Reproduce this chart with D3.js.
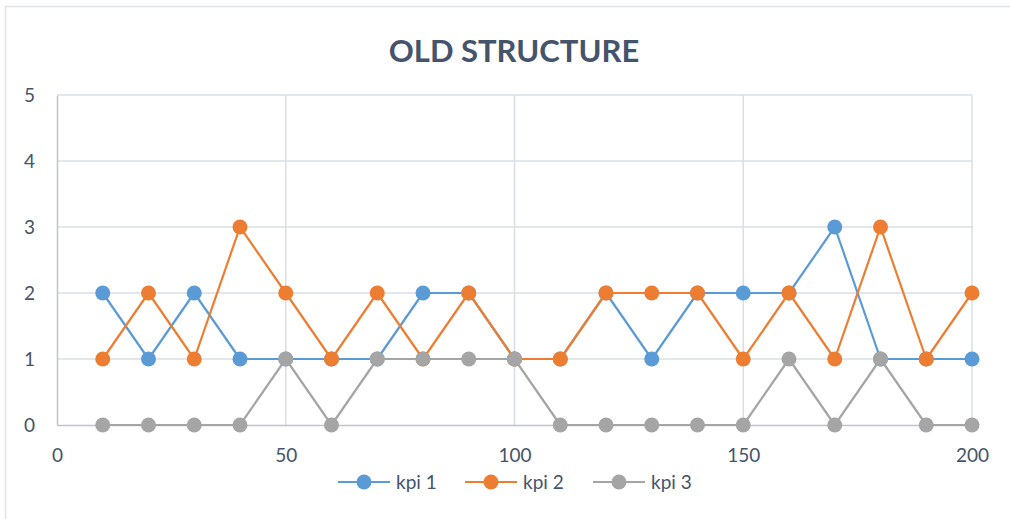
<!DOCTYPE html>
<html>
<head>
<meta charset="utf-8">
<script src="https://cdn.jsdelivr.net/npm/d3@7"></script>
<style>
  html, body { margin: 0; padding: 0; background: #fff; }
  svg { display: block; }
</style>
</head>
<body>
<svg id="chart" width="1010" height="519"></svg>
<script>
// Series data: x positions and KPI values
const xValues = [10, 20, 30, 40, 50, 60, 70, 80, 90, 100, 110, 120, 130, 140, 150, 160, 170, 180, 190, 200];
const kpi1 = [2, 1, 2, 1, 1, 1, 1, 2, 2, 1, 1, 2, 1, 2, 2, 2, 3, 1, 1, 1];
const kpi2 = [1, 2, 1, 3, 2, 1, 2, 1, 2, 1, 1, 2, 2, 2, 1, 2, 1, 3, 1, 2];
const kpi3 = [0, 0, 0, 0, 1, 0, 1, 1, 1, 1, 0, 0, 0, 0, 0, 1, 0, 1, 0, 0];
const seriesNames = ["kpi 1", "kpi 2", "kpi 3"];
const xTicks = [0, 50, 100, 150, 200];
const yTicks = [0, 1, 2, 3, 4, 5];
const chartTitle = "OLD STRUCTURE";

const colors = ["#5b9bd5", "#ed7d31", "#a5a5a5"];
const textColor = "#44546a";
const font = "Lato, 'Open Sans', sans-serif";

const svg = d3.select("#chart");

// Outer chart frame
svg.append("rect")
  .attr("x", 5.5).attr("y", 6.5)
  .attr("width", 1010).attr("height", 520)
  .attr("fill", "#fff")
  .attr("stroke", "#dfe3ea").attr("stroke-width", 1.5);

const x = d3.scaleLinear().domain([0, 200]).range([57, 972]);
const y = d3.scaleLinear().domain([0, 5]).range([425, 95]);

// Title
svg.append("text")
  .attr("x", 514).attr("y", 62)
  .attr("text-anchor", "middle")
  .attr("font-family", font)
  .attr("font-weight", "bold")
  .attr("font-size", 31)
  .attr("fill", textColor)
  .text(chartTitle);

// Gridlines
const grid = svg.append("g");
grid.selectAll("line.h").data(yTicks.filter(d => d > 0)).join("line")
  .attr("class", "h")
  .attr("x1", x(0)).attr("x2", x(200))
  .attr("y1", d => y(d)).attr("y2", d => y(d))
  .attr("stroke", "#d9dee7").attr("stroke-width", 1.5);
grid.selectAll("line.v").data(xTicks.filter(d => d > 0)).join("line")
  .attr("class", "v")
  .attr("x1", d => x(d)).attr("x2", d => x(d))
  .attr("y1", y(0)).attr("y2", y(5))
  .attr("stroke", "#d9dee7").attr("stroke-width", 1.5);

// Axes
const xAxis = svg.append("g")
  .attr("transform", `translate(0,${y(0)})`)
  .call(d3.axisBottom(x).tickValues(xTicks).tickFormat(d3.format("d")).tickSize(0).tickPadding(24));
const yAxis = svg.append("g")
  .attr("transform", `translate(${x(0)},0)`)
  .call(d3.axisLeft(y).tickValues(yTicks).tickFormat(d3.format("d")).tickSize(0).tickPadding(22));

[xAxis, yAxis].forEach(g => {
  g.select(".domain").attr("stroke", "#bcc4d1").attr("stroke-width", 1.5);
  g.selectAll("text")
    .attr("font-family", font)
    .attr("font-size", 19)
    .attr("fill", textColor);
});

// Lines and markers
const allSeries = [kpi1, kpi2, kpi3];
const line = d3.line().x((d, i) => x(xValues[i])).y(d => y(d));

allSeries.forEach((vals, s) => {
  const g = svg.append("g");
  g.append("path")
    .datum(vals)
    .attr("d", line)
    .attr("fill", "none")
    .attr("stroke", colors[s])
    .attr("stroke-width", 2.2)
    .attr("stroke-linejoin", "round");
  g.selectAll("circle").data(vals).join("circle")
    .attr("cx", (d, i) => x(xValues[i]))
    .attr("cy", d => y(d))
    .attr("r", 7.5)
    .attr("fill", colors[s]);
});

// Legend
const legendX = [338, 465, 593];
const legendY = 482;
const legend = svg.append("g");
seriesNames.forEach((name, i) => {
  const gx = legendX[i];
  legend.append("line")
    .attr("x1", gx).attr("x2", gx + 52)
    .attr("y1", legendY).attr("y2", legendY)
    .attr("stroke", colors[i]).attr("stroke-width", 2.2);
  legend.append("circle")
    .attr("cx", gx + 26).attr("cy", legendY).attr("r", 7.5)
    .attr("fill", colors[i]);
  legend.append("text")
    .attr("x", gx + 58).attr("y", legendY)
    .attr("dy", "0.35em")
    .attr("font-family", font)
    .attr("font-size", 19)
    .attr("fill", textColor)
    .text(name);
});
</script>
</body>
</html>
